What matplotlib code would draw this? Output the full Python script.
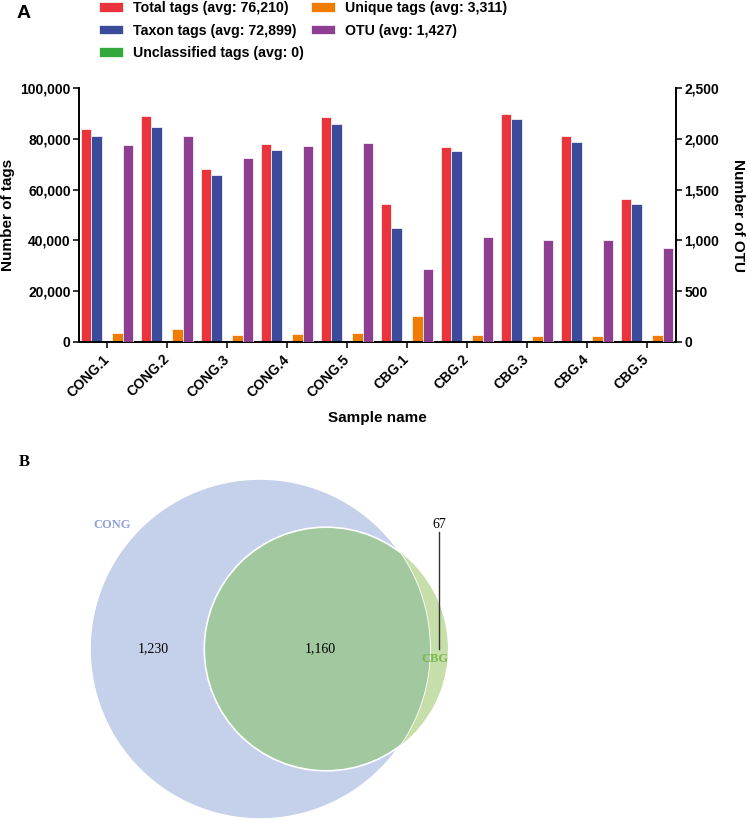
import numpy as np
import matplotlib
matplotlib.use("Agg")
import matplotlib.pyplot as plt
from matplotlib.patches import Circle, Patch

# Panel A data
samples = ["CONG.1", "CONG.2", "CONG.3", "CONG.4", "CONG.5",
           "CBG.1", "CBG.2", "CBG.3", "CBG.4", "CBG.5"]
total_tags = [84000, 89100, 68300, 78100, 88700, 54200, 77000, 90000, 81000, 56400]
taxon_tags = [81200, 84600, 65900, 75500, 85900, 44800, 75200, 88000, 79000, 54200]
unclassified_tags = [0, 0, 0, 0, 0, 0, 0, 0, 0, 0]
unique_tags = [3300, 4900, 2800, 2900, 3400, 10000, 2500, 2300, 2300, 2600]
otu_counts = [1937, 2034, 1810, 1934, 1963, 721, 1036, 1004, 1004, 928]

legend_labels = ["Total tags (avg: 76,210)", "Taxon tags (avg: 72,899)",
                 "Unclassified tags (avg: 0)", "Unique tags (avg: 3,311)",
                 "OTU (avg: 1,427)"]

# Panel B data
cong_only = 1230
shared = 1160
cbg_only = 67

RED = "#e8343a"
BLUE = "#3b4a9a"
GREEN = "#33a93b"
ORANGE = "#f07d00"
PURPLE = "#8f3f92"

plt.rcParams["font.family"] = ["Liberation Sans", "DejaVu Sans"]
plt.rcParams["font.weight"] = "bold"

W, H = 747, 821
fig = plt.figure(figsize=(W / 100, H / 100), dpi=100)

# ---- Panel A ----
ax = fig.add_axes([79 / W, 1 - 341.7 / H, (676 - 79) / W, (341.7 - 88.3) / H])
ax2 = ax.twinx()

x = np.arange(len(samples))
bw = 0.175
kw = dict(width=bw, edgecolor="white", linewidth=0.5)
ax.bar(x - 2 * bw, total_tags, color=RED, **kw)
ax.bar(x - bw, taxon_tags, color=BLUE, **kw)
ax.bar(x, unclassified_tags, color=GREEN, **kw)
ax.bar(x + bw, unique_tags, color=ORANGE, **kw)
ax2.bar(x + 2 * bw, otu_counts, color=PURPLE, **kw)

ax.set_xlim(-0.467, 9.483)
ax.set_ylim(0, 100000)
ax2.set_ylim(0, 2500)
ax.set_yticks(np.arange(0, 100001, 20000))
ax.set_yticklabels([f"{v:,}" for v in range(0, 100001, 20000)])
ax2.set_yticks(np.arange(0, 2501, 500))
ax2.set_yticklabels([f"{v:,}" for v in range(0, 2501, 500)])
ax.set_xticks(x)
ax.set_xticklabels(samples, rotation=45, ha="right", va="center",
                   rotation_mode="anchor", fontsize=10, fontweight="bold")

for a in (ax, ax2):
    a.spines["top"].set_visible(False)
    for s in ("left", "right", "bottom"):
        a.spines[s].set_linewidth(1.4)
    a.tick_params(axis="both", direction="out", length=4, width=1.1,
                  labelsize=10, pad=2)
ax.spines["right"].set_visible(False)
ax2.spines["left"].set_visible(False)
ax2.spines["bottom"].set_visible(False)
ax.tick_params(axis="x", pad=7)

fig.text(8.5 / W, 1 - 215 / H, "Number of tags", rotation=90,
         ha="center", va="center", fontsize=11, fontweight="bold")
fig.text(738 / W, 1 - 215 / H, "Number of OTU", rotation=270,
         ha="center", va="center", fontsize=11, fontweight="bold")
fig.text(377 / W, 1 - 418 / H, "Sample name", ha="center", va="center",
         fontsize=11, fontweight="bold")
fig.text(24 / W, 1 - 13 / H, "A", ha="center", va="center",
         fontsize=14, fontweight="bold")

handles = [Patch(facecolor=c, edgecolor="white", linewidth=0.5)
           for c in (RED, BLUE, GREEN, ORANGE, PURPLE)]
fig.legend(handles, legend_labels, ncol=2, loc="upper left",
           bbox_to_anchor=(99 / W, 1 - 1 / H), frameon=False,
           borderpad=0, borderaxespad=0, handlelength=1.7,
           handleheight=0.7, handletextpad=0.7, labelspacing=0.6,
           columnspacing=0.5, prop=dict(size=10.2, weight="bold"))

# ---- Panel B : area-proportional Venn ----
def lens_area(r1, r2, d):
    a1 = r1 ** 2 * np.arccos((d ** 2 + r1 ** 2 - r2 ** 2) / (2 * d * r1))
    a2 = r2 ** 2 * np.arccos((d ** 2 + r2 ** 2 - r1 ** 2) / (2 * d * r2))
    a3 = 0.5 * np.sqrt((-d + r1 + r2) * (d + r1 - r2) * (d - r1 + r2) * (d + r1 + r2))
    return a1 + a2 - a3

r_cong = np.sqrt((cong_only + shared) / np.pi)
r_cbg = np.sqrt((shared + cbg_only) / np.pi)
lo, hi = abs(r_cong - r_cbg) + 1e-9, r_cong + r_cbg - 1e-9
for _ in range(100):
    mid = 0.5 * (lo + hi)
    if lens_area(r_cong, r_cbg, mid) > shared:
        lo = mid
    else:
        hi = mid
d = 0.5 * (lo + hi)

scale = 170 / r_cong  # pixels per unit
vb_top = 430
vx = fig.add_axes([0, 0, 1, (H - vb_top) / H])
cx_px, cy_px = 260, 649
vx.set_xlim(-cx_px / scale, (W - cx_px) / scale)
vx.set_ylim(-(H - cy_px) / scale, (cy_px - vb_top) / scale)
vx.axis("off")

cbg_full = Circle((d, 0), r_cbg, facecolor="#c6dea9", edgecolor="none")
cong_c = Circle((0, 0), r_cong, facecolor="#c5d1ea", edgecolor="white", linewidth=1.2)
inter = Circle((d, 0), r_cbg, facecolor="#a1c89f", edgecolor="white", linewidth=1.2)
vx.add_patch(cbg_full)
vx.add_patch(cong_c)
vx.add_patch(inter)
inter.set_clip_path(cong_c)

serif = ["Liberation Serif", "DejaVu Serif"]
vx.text(-0.63 * r_cong, 0, f"{cong_only:,}", ha="center", va="center",
        family=serif, fontweight="normal", fontsize=10)
vx.text(d - 0.05 * r_cbg, 0.05, f"{shared:,}", ha="center", va="center",
        family=serif, fontweight="normal", fontsize=10)
lx = d + 0.93 * r_cbg
vx.text(lx, 20.2, f"{cbg_only}", ha="center", va="center",
        family=serif, fontweight="normal", fontsize=10)
vx.plot([lx, lx], [19.0, 0.0], color="#333333", linewidth=1)
vx.text(lx - 0.7, -1.6, "CBG", ha="center", va="center", family=serif,
        fontweight="bold", fontsize=9, color="#79b84a")
vx.text(-24.0, 20.1, "CONG", ha="center", va="center", family=serif,
        fontweight="bold", fontsize=9, color="#8ea2d6")

fig.text(24 / W, 1 - 462 / H, "B", ha="center", va="center", family=serif,
         fontsize=12, fontweight="bold")

fig.savefig("out.png", dpi=100)
